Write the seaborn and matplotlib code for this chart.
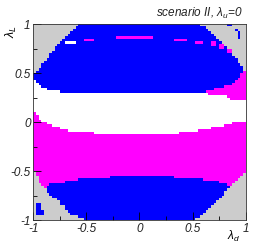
import numpy as np
import matplotlib
matplotlib.use('Agg')
import matplotlib.pyplot as plt
from matplotlib.colors import ListedColormap
import seaborn as sns

# region codes: 0 excluded (gray), 1 blue, 2 magenta, 3 white
region_colors = ['#cccccc', '#0000ff', '#ff00ff', '#ffffff']

# boundaries: lambda_d vertices and lambda_L values
gray_top_d = [-1.0, -0.956, -0.912, -0.859, -0.812, -0.755, -0.692, -0.629, -0.561, -0.50,
              0.52, 0.57, 0.70, 0.80, 0.87, 0.93, 0.97, 1.0]
gray_top_L = [0.48, 0.53, 0.60, 0.665, 0.735, 0.80, 0.87, 0.94, 1.0, 1.05,
              1.05, 1.0, 0.89, 0.78, 0.69, 0.62, 0.56, 0.52]

blue_bot_d = [-1.0, -0.97, -0.94, -0.906, -0.83, -0.69, 0.62, 0.66, 0.72, 0.80, 0.86, 0.92, 0.95, 0.98, 1.0]
blue_bot_L = [0.43, 0.41, 0.37, 0.344, 0.327, 0.303, 0.303, 0.327, 0.344, 0.36, 0.38, 0.43, 0.48, 0.53, 0.56]

white_top_d = [-1.0, 0.60, 0.62, 0.64, 0.80, 0.82, 0.88, 1.0]
white_top_L = [1.0, 1.0, 0.30, 0.286, 0.286, 0.255, 0.224, 0.224]

mag_top_d = [-1.0, -0.975, -0.946, -0.909, -0.88, -0.827, -0.796, -0.72, -0.674, -0.40,
             0.33, 0.396, 0.537, 0.596, 0.756, 0.879, 0.973, 1.0]
mag_top_L = [0.09, 0.09, 0.04, 0.003, -0.013, -0.031, -0.048, -0.08, -0.09, -0.116,
             -0.12, -0.11, -0.09, -0.075, -0.048, -0.013, 0.0, 0.0]

mag_bot_d = [-1.0, -0.89, -0.85, -0.80, -0.72, -0.55, -0.20, 0.30, 0.40, 0.55, 0.70, 0.78, 0.86, 1.0]
mag_bot_L = [-0.67, -0.67, -0.64, -0.626, -0.615, -0.58, -0.558, -0.558, -0.58, -0.58, -0.60, -0.626, -0.65, -0.65]

gray_bot_d = [-1.0, -0.968, -0.937, -0.89, -0.859, -0.812, -0.765, -0.733, -0.70, -0.686, -0.577, -0.50, -0.45,
              0.48, 0.534, 0.60, 0.675, 0.769, 0.863, 0.926, 0.989, 1.0]
gray_bot_L = [-0.48, -0.548, -0.615, -0.677, -0.728, -0.77, -0.80, -0.847, -0.864, -0.915, -0.966, -1.0, -1.05,
              -1.05, -0.99, -0.93, -0.864, -0.762, -0.643, -0.592, -0.524, -0.51]

# small patches: (lambda_d from, to, lambda_L from, to, region)
spots = [
    (-0.22, 0.13, 0.84, 0.86, 2),
    (-0.52, -0.42, 0.82, 0.84, 2),
    (-0.69, -0.61, 0.80, 0.82, 3),
    (0.33, 0.45, 0.82, 0.84, 2),
    (0.53, 0.59, 0.80, 0.82, 2),
    (0.69, 0.73, 0.78, 0.80, 2),
    (0.75, 0.79, 0.76, 0.78, 2),
    (0.79, 0.81, 0.745, 0.765, 2),
    (0.84, 0.87, 0.71, 0.73, 2),
    (0.83, 0.88, 0.97, 0.99, 1),
    (0.905, 0.92, 0.92, 0.94, 1),
    (0.925, 0.96, 0.86, 0.91, 1),
    (-0.96, -0.93, -0.95, -0.84, 1),
    (-0.93, -0.89, -0.95, -0.91, 1),
]

nbins = 80
w = 2.0 / nbins
centers = -1 + w * (np.arange(nbins) + 0.5)
D, L = np.meshgrid(centers, centers[::-1])


def edge(xs, ys):
    return np.interp(D, xs, ys)


gt = edge(gray_top_d, gray_top_L)
gb = edge(gray_bot_d, gray_bot_L)
bb = edge(blue_bot_d, blue_bot_L)
wt = np.minimum(bb, edge(white_top_d, white_top_L))
mt = edge(mag_top_d, mag_top_L)
mb = edge(mag_bot_d, mag_bot_L)

grid = np.select(
    [L >= gt, L < gb, L >= bb, L >= wt, L >= mt, L >= mb],
    [0, 0, 1, 2, 3, 2], default=1)

for d0, d1, l0, l1, c in spots:
    j0 = int(np.floor((d0 + 1) / w))
    j1 = max(j0 + 1, int(round((d1 + 1) / w)))
    r0 = int(np.floor((1 - l1) / w))
    r1 = max(r0 + 1, int(round((1 - l0) / w)))
    grid[r0:r1, j0:j1] = c

plt.rcParams['mathtext.fontset'] = 'custom'
plt.rcParams['mathtext.rm'] = 'Liberation Sans'
plt.rcParams['mathtext.it'] = 'Liberation Sans:italic'
plt.rcParams['font.family'] = ['Liberation Sans', 'DejaVu Sans']

fig = plt.figure(figsize=(2.58, 2.45), dpi=100)
ax = fig.add_axes([0.129, 0.102, 0.823, 0.800])
sns.heatmap(grid, cmap=ListedColormap(region_colors), vmin=-0.5, vmax=3.5,
            cbar=False, ax=ax, xticklabels=False, yticklabels=False)

major = [-1, -0.5, 0, 0.5, 1]
minor = [-0.75, -0.25, 0.25, 0.75]
labels = ['-1', '-0.5', '0', '0.5', '1']
ax.set_xticks([(v + 1) / w for v in major], labels, fontstyle='italic')
ax.set_yticks([(1 - v) / w for v in major], labels, fontstyle='italic', rotation=0)
ax.set_xticks([(v + 1) / w for v in minor], minor=True)
ax.set_yticks([(1 - v) / w for v in minor], minor=True)
ax.tick_params(which='major', direction='in', length=6, width=0.6, labelsize=8.5,
               pad=2, labelcolor='#222222')
ax.tick_params(which='minor', direction='in', length=3, width=0.6)
for s in ax.spines.values():
    s.set_visible(True)
    s.set_linewidth(0.6)
    s.set_color('#333333')

fig.text(0.942, 0.945, r'scenario II, $\lambda_{u}$=0', ha='right', va='center',
         fontsize=8.5, fontstyle='italic', color='#222222')
fig.text(0.045, 0.87, r'$\lambda_{L}$', rotation=90, ha='center', va='center', fontsize=9)
fig.text(0.905, 0.035, r'$\lambda_{d}$', ha='center', va='center', fontsize=8.5)

fig.savefig('out.png', dpi=100)
